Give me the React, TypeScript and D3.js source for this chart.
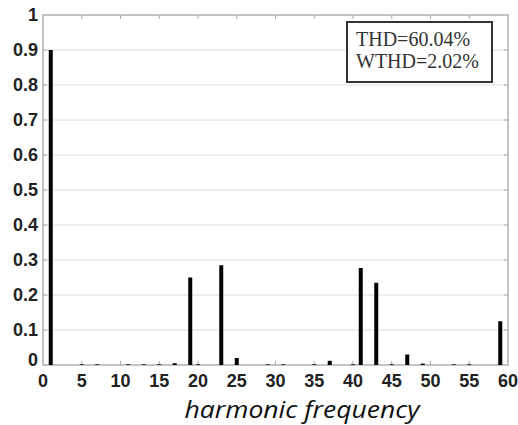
import React from "react";
import * as d3 from "d3";

const harmonics = [1, 5, 7, 11, 13, 15, 17, 19, 20, 23, 25, 29, 31, 35, 37, 40, 41, 43, 45, 47, 49, 53, 55, 59];
const magnitudes = [0.9, 0.002, 0.002, 0.002, 0.002, 0.002, 0.005, 0.25, 0.002, 0.285, 0.02, 0.002, 0.002, 0.002, 0.012, 0.002, 0.277, 0.235, 0.002, 0.03, 0.004, 0.002, 0.002, 0.125];
const xTicks = [0, 5, 10, 15, 20, 25, 30, 35, 40, 45, 50, 55, 60];
const yTicks = [0, 0.1, 0.2, 0.3, 0.4, 0.5, 0.6, 0.7, 0.8, 0.9, 1];
const legendLines = ["THD=60.04%", "WTHD=2.02%"];
const xLabel = "harmonic frequency";

const W = 518, H = 425;
const M = { left: 43, right: 10, top: 15, bottom: 60 };

export default function App() {
  const x = d3.scaleLinear().domain([0, 60]).range([M.left, W - M.right]);
  const y = d3.scaleLinear().domain([0, 1]).range([H - M.bottom, M.top]);
  const fmt = (v: number) => (v === 0 || v === 1 ? String(v) : d3.format(".1f")(v));
  const x0 = x(0), x1 = x(60), y0 = y(0), y1 = y(1);
  const barW = 4;
  return (
    <svg width={W} height={H} style={{ position: "absolute", left: 0, top: 0, background: "#fff" }}>
      {yTicks.slice(1, -1).map((t) => (
        <line key={"g" + t} x1={x0} x2={x1} y1={y(t)} y2={y(t)} stroke="#dcdcdc" strokeWidth={1} />
      ))}
      {xTicks.slice(1, -1).map((t) => (
        <g key={"xt" + t}>
          <line x1={x(t)} x2={x(t)} y1={y0} y2={y0 - 4} stroke="#aaa" />
          <line x1={x(t)} x2={x(t)} y1={y1} y2={y1 + 4} stroke="#aaa" />
        </g>
      ))}
      {yTicks.slice(1, -1).map((t) => (
        <g key={"yt" + t}>
          <line x1={x0} x2={x0 + 4} y1={y(t)} y2={y(t)} stroke="#aaa" />
          <line x1={x1} x2={x1 - 4} y1={y(t)} y2={y(t)} stroke="#aaa" />
        </g>
      ))}
      <rect x={x0} y={y1} width={x1 - x0} height={y0 - y1} fill="none" stroke="#b0b0b0" strokeWidth={1.5} />
      {harmonics.map((h, i) => (
        <rect key={"b" + h} x={x(h) - barW / 2} y={y(magnitudes[i])} width={barW} height={y0 - y(magnitudes[i])} fill="#000" />
      ))}
      {yTicks.map((t) => (
        <text key={"yl" + t} x={x0 - 5} y={t === 0 ? y0 - 5 : y(t)} dy="0.36em" textAnchor="end" fontFamily="Liberation Sans, Arial, sans-serif" fontWeight="bold" fontSize={18} fill="#222">
          {fmt(t)}
        </text>
      ))}
      {xTicks.map((t) => (
        <text key={"xl" + t} x={x(t)} y={y0 + 22} textAnchor="middle" fontFamily="Liberation Sans, Arial, sans-serif" fontWeight="bold" fontSize={18} fill="#222">
          {t}
        </text>
      ))}
      <text x={302} y={418} textAnchor="middle" fontFamily="Open Sans, sans-serif" fontStyle="italic" fontSize={23} textLength={235} lengthAdjust="spacingAndGlyphs" fill="#111">
        {xLabel}
      </text>
      <rect x={347} y={22} width={145} height={60} fill="#fff" stroke="#333" strokeWidth={2} />
      {legendLines.map((s, i) => (
        <text key={s} x={356} y={46 + i * 22} fontFamily="Liberation Serif, Times New Roman, serif" fontSize={20} fill="#333">
          {s}
        </text>
      ))}
    </svg>
  );
}
